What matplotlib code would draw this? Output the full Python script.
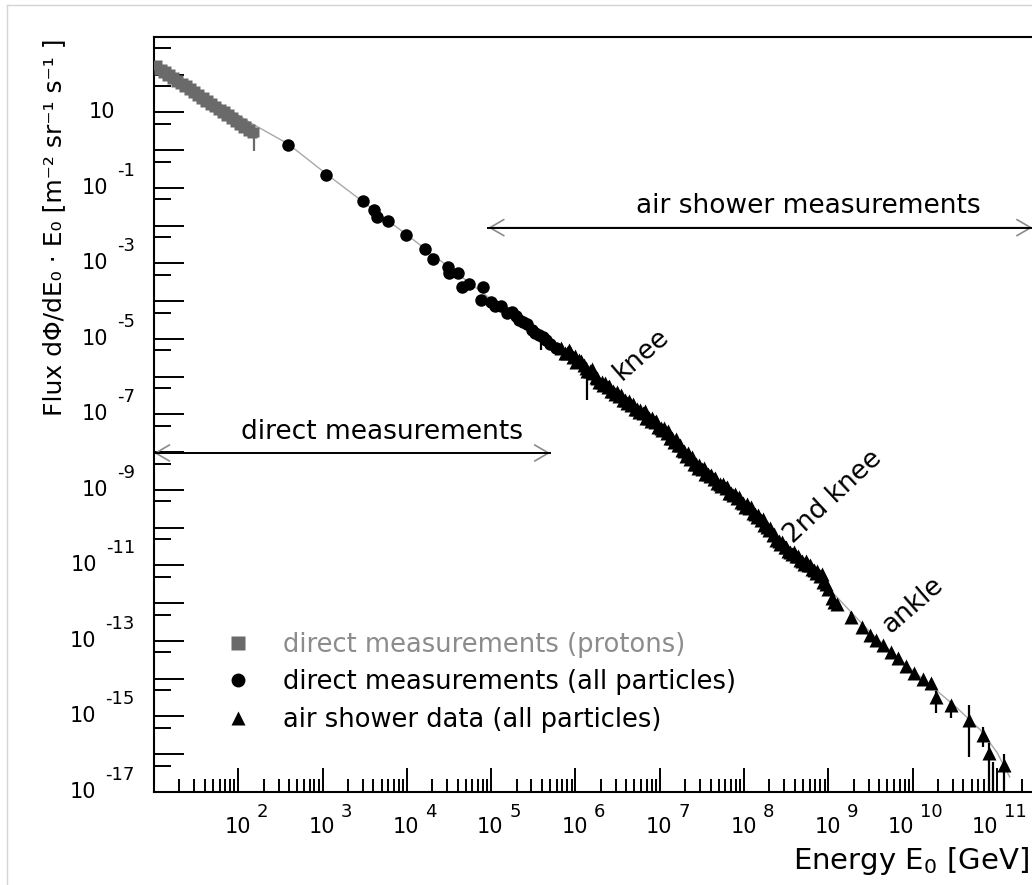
import numpy as np
import matplotlib.pyplot as plt
from matplotlib.lines import Line2D
from matplotlib.ticker import LogLocator, NullFormatter
from matplotlib.transforms import blended_transform_factory, ScaledTranslation

# values, stored as log10(E/GeV) and log10(flux)
proton_logE = [1.04, 1.06, 1.09, 1.11, 1.14, 1.16, 1.19, 1.21, 1.24, 1.26, 1.29, 1.31,
               1.34, 1.36, 1.39, 1.41, 1.44, 1.46, 1.49, 1.51, 1.54, 1.56, 1.59, 1.61,
               1.64, 1.66, 1.69, 1.71, 1.74, 1.76, 1.79, 1.81, 1.84, 1.86, 1.89, 1.91,
               1.94, 1.96, 1.99, 2.01, 2.04, 2.06, 2.09, 2.11, 2.14, 2.16, 2.19]
proton_logF = [2.26, 2.13, 2.16, 2.04, 2.10, 1.97, 2.01, 1.90, 1.95, 1.82, 1.87, 1.75,
               1.79, 1.67, 1.72, 1.59, 1.64, 1.52, 1.56, 1.44, 1.49, 1.37, 1.41, 1.29,
               1.34, 1.21, 1.26, 1.14, 1.18, 1.06, 1.10, 0.98, 1.03, 0.91, 0.95, 0.83,
               0.87, 0.75, 0.80, 0.68, 0.72, 0.60, 0.64, 0.52, 0.57, 0.45, 0.48]

direct_logE = [2.59, 3.04, 3.48, 3.61, 3.64, 3.78, 3.99, 4.21, 4.31, 4.49, 4.50, 4.61,
               4.65, 4.74, 4.90, 4.88, 5.00, 5.12, 5.19, 5.29, 5.38, 5.48, 5.57, 5.65, 5.77,
               5.05, 5.25, 5.33, 5.43, 5.52, 5.62, 5.70]
direct_logF = [0.15, -0.65, -1.35, -1.57, -1.76, -1.88, -2.24, -2.61, -2.87, -3.08, -3.24, -3.24,
               -3.61, -3.54, -3.61, -3.96, -4.01, -4.12, -4.31, -4.39, -4.54, -4.76, -4.89, -5.02, -5.23,
               -4.12, -4.28, -4.50, -4.60, -4.85, -4.95, -5.12]

shower_logE = [5.83, 5.90, 5.97, 6.04, 6.10, 6.17, 6.24, 6.31, 6.38, 6.45, 6.52, 6.59,
               6.66, 6.73, 6.80, 6.87, 6.94, 7.01, 7.08, 7.15, 7.22, 7.29, 7.36, 7.43,
               7.50, 7.57, 7.64, 7.71, 7.78, 7.85, 7.92, 7.99, 8.06, 8.13, 8.20, 8.27,
               8.34, 8.41, 8.48, 8.55, 8.62, 8.69, 8.76, 8.83, 8.90, 8.97, 9.04, 9.10,
               5.87, 5.94, 6.01, 6.07, 6.14, 6.21, 6.28, 6.35, 6.42, 6.49, 6.56, 6.63,
               6.70, 6.77, 6.84, 6.91, 6.98, 7.05, 7.12, 7.19, 7.26, 7.33, 7.40, 7.47,
               7.54, 7.61, 7.68, 7.75, 7.82, 7.89, 7.96, 8.03, 8.10, 8.17, 8.24, 8.31,
               8.38, 8.45, 8.52, 8.59, 8.66, 8.73, 8.80, 8.87, 8.94,
               5.92, 6.00, 6.12, 6.19, 6.26, 6.33, 6.40, 6.47, 6.54, 6.61, 6.68, 6.75,
               6.82, 6.89, 6.96, 7.03, 7.10, 7.17, 7.24, 7.31, 7.38, 7.45, 7.52, 7.59,
               7.66, 7.73, 7.80, 7.87, 7.94, 8.01, 8.08, 8.15, 8.22, 8.29, 8.36, 8.43,
               8.50, 8.57, 8.64, 8.71, 8.78, 8.85, 8.92, 8.99, 9.07,
               9.27, 9.40, 9.49, 9.57, 9.65, 9.74, 9.83, 9.92, 10.02, 10.12, 10.22,
               10.28, 10.46, 10.67, 10.83, 10.91, 11.08]
shower_logF = [-5.24, -5.38, -5.47, -5.56, -5.69, -5.85, -6.01, -6.13, -6.27, -6.38, -6.50, -6.62,
               -6.74, -6.85, -6.96, -7.08, -7.21, -7.35, -7.49, -7.63, -7.80, -7.98, -8.17, -8.32,
               -8.45, -8.58, -8.70, -8.83, -8.96, -9.08, -9.21, -9.35, -9.49, -9.63, -9.79, -9.98,
               -10.18, -10.36, -10.51, -10.63, -10.75, -10.87, -11.00, -11.12, -11.27, -11.50, -11.85, -12.02,
               -5.36, -5.34, -5.60, -5.58, -5.84, -5.90, -6.13, -6.16, -6.38, -6.40, -6.61, -6.63,
               -6.85, -6.87, -7.08, -7.10, -7.34, -7.37, -7.62, -7.65, -7.94, -8.02, -8.30, -8.34,
               -8.57, -8.60, -8.82, -8.85, -9.07, -9.10, -9.33, -9.37, -9.62, -9.66, -9.94, -10.02,
               -10.32, -10.38, -10.62, -10.64, -10.86, -10.88, -11.10, -11.14, -11.44,
               -5.30, -5.46, -5.78, -5.80, -6.04, -6.22, -6.24, -6.47, -6.48, -6.70, -6.71, -6.94,
               -6.92, -7.16, -7.17, -7.42, -7.44, -7.72, -7.82, -8.10, -8.12, -8.42, -8.43, -8.64,
               -8.68, -8.90, -8.92, -9.14, -9.18, -9.44, -9.45, -9.72, -9.78, -10.07, -10.16, -10.44,
               -10.50, -10.70, -10.74, -10.95, -10.98, -11.20, -11.22, -11.62, -11.98,
               -12.37, -12.62, -12.85, -12.98, -13.11, -13.30, -13.46, -13.66, -13.85, -14.00, -14.12,
               -14.49, -14.70, -15.10, -15.50, -15.98, -16.29]

# vertical error bars: position, lower end, upper end (log10)
err_logE = [2.19, 5.59, 6.14, 9.27, 10.28, 10.46, 10.67, 10.83, 10.91, 10.95, 11.08]
err_lo = [-0.03, -5.29, -6.61, -12.50, -14.90, -15.05, -16.08, -15.82, -17.5, -17.5, -17.5]
err_hi = [0.48, -4.94, -5.68, -12.22, -14.33, -14.60, -14.70, -15.29, -15.70, -16.20, -16.00]

# grey model curve
model_logE = [1.00, 2.15, 2.59, 3.04, 3.50, 4.00, 4.50, 5.00, 5.50, 6.00, 6.50,
              7.00, 7.50, 8.00, 8.50, 9.00, 9.50, 10.00, 10.50, 10.80, 11.00, 11.15]
model_logF = [2.30, 0.72, 0.17, -0.62, -1.40, -2.24, -3.10, -3.95, -4.78, -5.52, -6.46,
              -7.33, -8.43, -9.36, -10.52, -11.60, -12.78, -13.78, -14.72, -15.35, -15.95, -16.60]

x_label_exps = [2, 3, 4, 5, 6, 7, 8, 9, 10, 11]
y_label_exps = [1, -1, -3, -5, -7, -9, -11, -13, -15, -17]

legend_labels = ['direct measurements (protons)',
                 'direct measurements (all particles)',
                 'air shower data (all particles)']


def p(v):
    return 10.0 ** np.asarray(v)


fig = plt.figure(figsize=(10.32, 8.85), dpi=100)
ax = fig.add_axes([0.1492, 0.1051, 0.8512, 0.8531])
ax.set_xscale('log')
ax.set_yscale('log')
ax.set_xlim(10, 10 ** 11.42)
ax.set_ylim(1e-17, 1e3)

ax.plot(p(model_logE), p(model_logF), color='#a8a8a8', lw=1.0, zorder=1)
ax.vlines(p(err_logE[1:]), p(err_lo[1:]), p(err_hi[1:]), color='black', lw=1.6, zorder=2)
ax.vlines(p(err_logE[:1]), p(err_lo[:1]), p(err_hi[:1]), color='#6a6a6a', lw=1.6, zorder=2)
ax.plot(p(proton_logE), p(proton_logF), 's', color='#6a6a6a', ms=7.5, mec='none', zorder=3)
ax.plot(p(direct_logE), p(direct_logF), 'o', color='black', ms=9, mec='none', zorder=3)
ax.plot(p(shower_logE), p(shower_logF), '^', color='black', ms=9.5, mec='none', zorder=3)

# axes styling
for s in ['left', 'top', 'bottom']:
    ax.spines[s].set_linewidth(1.5)
ax.spines['right'].set_visible(False)
ax.xaxis.set_major_locator(LogLocator(base=10, subs=(1.0,), numticks=30))
ax.xaxis.set_minor_locator(LogLocator(base=10, subs=range(2, 10), numticks=200))
ax.yaxis.set_major_locator(LogLocator(base=10, subs=(1.0,), numticks=40))
ax.yaxis.set_minor_locator(LogLocator(base=10, subs=(5.0,), numticks=200))
ax.xaxis.set_minor_formatter(NullFormatter())
ax.yaxis.set_minor_formatter(NullFormatter())
ax.tick_params(which='both', direction='in', width=1.4, top=False, right=False,
               labelbottom=False, labelleft=False)
ax.tick_params(axis='y', which='major', length=21.6)
ax.tick_params(axis='y', which='minor', length=12.2)
ax.tick_params(axis='x', which='major', length=17.3)
ax.tick_params(axis='x', which='minor', length=9.4)


def px(dx, dy):
    return ScaledTranslation(dx / 100.0, dy / 100.0, fig.dpi_scale_trans)


# ROOT style tick labels: "10" with a high exponent
tx = blended_transform_factory(ax.transData, ax.transAxes)
for k in x_label_exps:
    e = ax.text(10.0 ** k, 0, str(k), fontsize=13, ha='right', va='center',
                transform=tx + px(30, -20), clip_on=False)
    ax.annotate('10', xy=(0, 0.5), xycoords=e, xytext=(-6, -15), textcoords='offset pixels',
                fontsize=15, ha='right', va='center')

ty = blended_transform_factory(ax.transAxes, ax.transData)
for k in y_label_exps:
    if k == 1:
        ax.text(0, 10.0 ** k, '10', fontsize=15, ha='right', va='center',
                transform=ty + px(-39, 0), clip_on=False)
        continue
    e = ax.text(0, 10.0 ** k, str(k), fontsize=13, ha='right', va='center',
                transform=ty + px(-19, 17), clip_on=False)
    ax.annotate('10', xy=(0, 0.5), xycoords=e, xytext=(-9, -17), textcoords='offset pixels',
                fontsize=15, ha='right', va='center')

fig.text(1029 / 1032, 1 - 861 / 885, r'Energy E$_0$ [GeV]', fontsize=21, ha='right', va='center')
fig.text(54.5 / 1032, 1 - 38 / 885, 'Flux dΦ/dE₀ · E₀ [m⁻² sr⁻¹ s⁻¹ ]',
         fontsize=18, rotation=90, ha='center', va='top')

# range arrows: black shaft, grey open heads
for x0, x1, y, label, lx, ly in [(4.966, 11.42, -2.05, 'air shower measurements', 8.76, -1.49),
                                 (1.0, 5.70, -8.02, 'direct measurements', 3.70, -7.46)]:
    ax.annotate('', xy=(10 ** x1, 10 ** y), xytext=(10 ** x0, 10 ** y),
                arrowprops=dict(arrowstyle='<->,head_length=0.5,head_width=0.29',
                                color='#8a8a8a', lw=1.2, shrinkA=0, shrinkB=0,
                                mutation_scale=20), annotation_clip=False)
    ax.plot([10 ** x0, 10 ** x1], [10 ** y, 10 ** y], color='black', lw=1.4,
            clip_on=False, zorder=5)
    ax.text(10 ** lx, 10 ** ly, label, fontsize=19, ha='center', va='center')

ax.text(10 ** 6.78, 10 ** -5.42, 'knee', fontsize=19, rotation=41, rotation_mode='anchor',
        ha='center', va='center')
ax.text(10 ** 9.06, 10 ** -9.19, '2nd knee', fontsize=19, rotation=43, rotation_mode='anchor',
        ha='center', va='center')
ax.text(10 ** 10.0, 10 ** -12.05, 'ankle', fontsize=19, rotation=41, rotation_mode='anchor',
        ha='center', va='center')

handles = [Line2D([], [], ls='none', marker='s', color='#6a6a6a', ms=10, mec='none'),
           Line2D([], [], ls='none', marker='o', color='black', ms=10, mec='none'),
           Line2D([], [], ls='none', marker='^', color='black', ms=10.5, mec='none')]
ax.legend(handles, legend_labels, loc='upper left', bbox_to_anchor=(0.081, 0.212),
          frameon=False, fontsize=18.5, handlelength=1.0, handletextpad=1.25,
          labelspacing=0.44, borderpad=0, borderaxespad=0,
          labelcolor=['#8c8c8c', 'black', 'black'])

# light grey frame of the original screenshot
fig.add_artist(Line2D([7 / 1032, 7 / 1032], [0, 1 - 5 / 885], color='#d4d4d4', lw=1,
                      transform=fig.transFigure))
fig.add_artist(Line2D([7 / 1032, 1], [1 - 5 / 885, 1 - 5 / 885], color='#d4d4d4', lw=1,
                      transform=fig.transFigure))

fig.savefig('out.png', dpi=100)
